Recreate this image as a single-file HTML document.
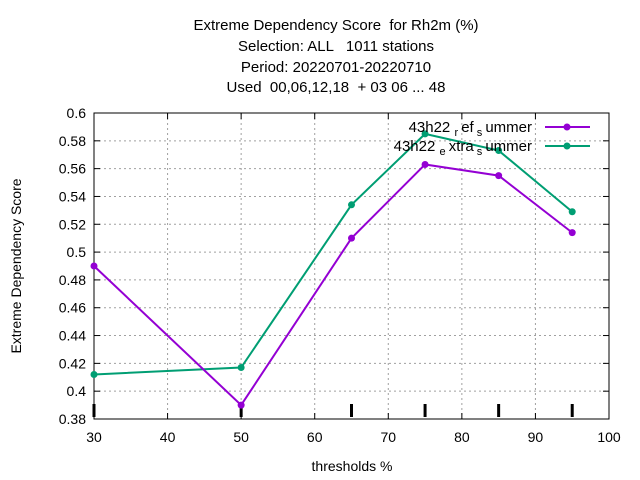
<!DOCTYPE html>
<html><head><meta charset="utf-8"><style>
body{margin:0;background:#fff}
svg{display:block;font-family:"Liberation Sans",sans-serif}
text{white-space:pre}
</style></head><body>
<svg id="chart" width="640" height="480" xml:space="preserve">
<g font-size="15" text-anchor="middle" fill="#000">
<text x="336" y="30">Extreme Dependency Score  for Rh2m (%)</text>
<text x="336" y="51">Selection: ALL   1011 stations</text>
<text x="336" y="72">Period: 20220701-20220710</text>
<text x="336" y="92">Used  00,06,12,18  + 03 06 ... 48</text>
</g>
<text x="21" y="266" font-size="14" text-anchor="middle" transform="rotate(-90 21 266)">Extreme Dependency Score</text>
<text x="352" y="471" font-size="14" text-anchor="middle">thresholds %</text>
<g id="grid"></g><g id="axes"></g><g id="series"></g>
<g font-size="15" text-anchor="end">
<text x="532" y="132">43h22 <tspan font-size="11" dy="4">r </tspan><tspan dy="-4">ef</tspan><tspan font-size="11" dy="4"> s </tspan><tspan dy="-4">ummer</tspan></text>
<text x="532" y="151">43h22 <tspan font-size="11" dy="4">e </tspan><tspan dy="-4">xtra</tspan><tspan font-size="11" dy="4"> s </tspan><tspan dy="-4">ummer</tspan></text>
<line x1="545" y1="127" x2="590" y2="127" stroke="#9400d3" stroke-width="2"/>
<circle cx="567" cy="127" r="3.5" fill="#9400d3"/>
<line x1="545" y1="146" x2="590" y2="146" stroke="#009e73" stroke-width="2"/>
<circle cx="567" cy="146" r="3.5" fill="#009e73"/>
</g>
</svg>
<script>
const thresholds=[30,50,65,75,85,95];
const refSummer=[0.490,0.390,0.510,0.563,0.555,0.514];
const extraSummer=[0.412,0.417,0.534,0.585,0.573,0.529];
const xTicks=[30,40,50,60,70,80,90,100];
const yTicks=[0.38,0.4,0.42,0.44,0.46,0.48,0.5,0.52,0.54,0.56,0.58,0.6];
const yTickLabels=["0.38","0.4","0.42","0.44","0.46","0.48","0.5","0.52","0.54","0.56","0.58","0.6"];
const L=94,R=609,T=113,B=419;
const xs=v=>L+(v-30)/70*(R-L);
const ys=v=>B-(v-0.38)/0.22*(B-T);
const NS="http://www.w3.org/2000/svg";
function mk(tag,attrs,parent){const e=document.createElementNS(NS,tag);for(const k in attrs)e.setAttribute(k,attrs[k]);parent.appendChild(e);return e;}
const grid=document.getElementById('grid'),axes=document.getElementById('axes'),ser=document.getElementById('series');
xTicks.forEach(v=>{
 const x=xs(v);
 if(v>30&&v<100){const g=mk('line',{x1:x,y1:T,x2:x,y2:B,stroke:'#a0a0a0','stroke-dasharray':'2,3','stroke-width':1},grid);
 
 }
 mk('line',{x1:x,y1:B,x2:x,y2:B-6,stroke:'#000'},axes);
 mk('line',{x1:x,y1:T,x2:x,y2:T+6,stroke:'#000'},axes);
 const t=mk('text',{x:x,y:B+23,'font-size':14,'text-anchor':'middle'},axes);t.textContent=v;
 
 
});
yTicks.forEach((v,i)=>{
 const y=ys(v);
 if(i>0&&i<yTicks.length-1){const g=mk('line',{x1:L,y1:y,x2:R,y2:y,stroke:'#a0a0a0','stroke-dasharray':'2,3','stroke-width':1},grid);
 
 }
 mk('line',{x1:L,y1:y,x2:L+6,y2:y,stroke:'#000'},axes);
 mk('line',{x1:R,y1:y,x2:R-6,y2:y,stroke:'#000'},axes);
 const t=mk('text',{x:L-8,y:y+5,'font-size':14,'text-anchor':'end'},axes);t.textContent=yTickLabels[i];
 
 
});
thresholds.forEach(v=>{const m=mk('line',{x1:xs(v),y1:B-15,x2:xs(v),y2:B-2,stroke:'#000','stroke-width':3},axes);
 
 });
const frame=mk('rect',{x:L,y:T,width:R-L,height:B-T,fill:'none',stroke:'#000','stroke-width':1},axes);


function draw(vals,color,name){
 const pts=thresholds.map((t,i)=>xs(t)+','+ys(vals[i])).join(' ');
 const p=mk('polyline',{points:pts,fill:'none',stroke:color,'stroke-width':2},ser);
 
 
 thresholds.forEach((t,i)=>{const r=mk('circle',{cx:xs(t),cy:ys(vals[i]),r:3.5,fill:color},ser);
 
 });
}
draw(extraSummer,'#009e73','extra-summer');
draw(refSummer,'#9400d3','ref-summer');
</script>
</body></html>
